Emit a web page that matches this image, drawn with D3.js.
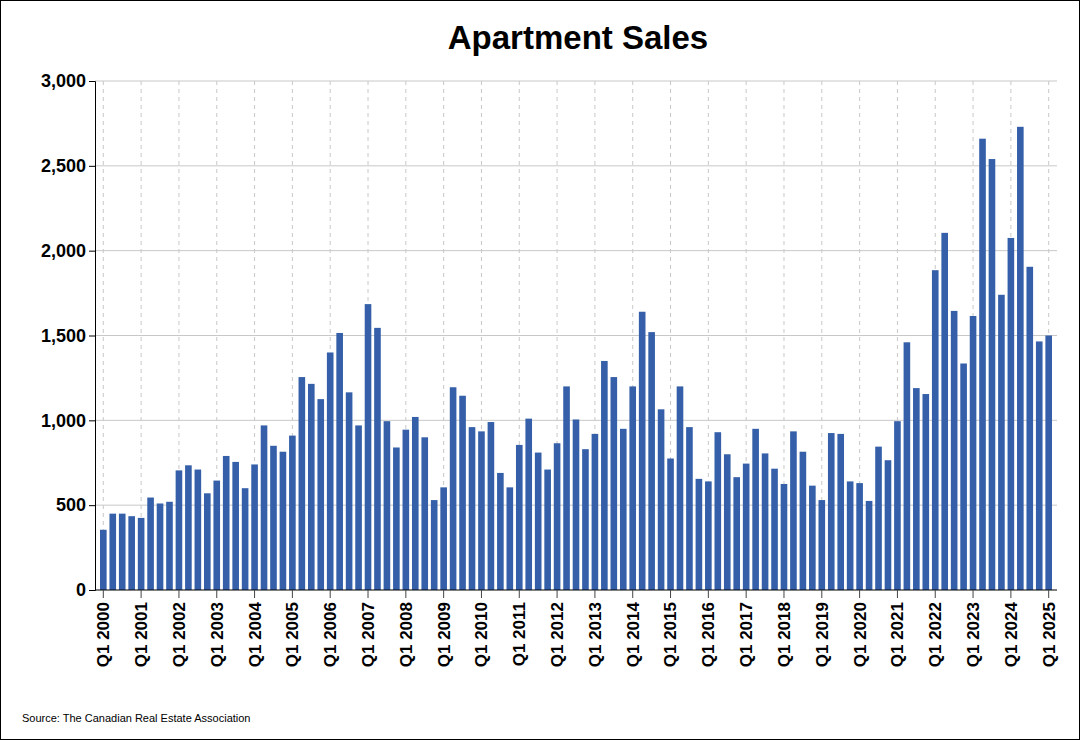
<!DOCTYPE html>
<html>
<head>
<meta charset="utf-8">
<script src="https://cdn.jsdelivr.net/npm/d3@7"></script>
<style>
  body { margin: 0; background: #fff; }
  svg { font-family: "Liberation Sans", Arial, sans-serif; }
</style>
</head>
<body>
<svg id="chart"></svg>
<script>
const years = d3.range(2000, 2026);
const sales = [
  355, 450, 450, 435,
  425, 545, 510, 520,
  705, 735, 710, 570,
  645, 790, 755, 600,
  740, 970, 850, 815,
  910, 1255, 1215, 1125,
  1400, 1515, 1165, 970,
  1685, 1545, 995, 840,
  945, 1020, 900, 530,
  605, 1195, 1145, 960,
  935, 990, 690, 605,
  855, 1010, 810, 710,
  865, 1200, 1005, 830,
  920, 1350, 1255, 950,
  1200, 1640, 1520, 1065,
  775, 1200, 960, 655,
  640, 930, 800, 665,
  745, 950, 805, 715,
  625, 935, 815, 615,
  530, 925, 920, 640,
  630, 525, 845, 765,
  995, 1460, 1190, 1155,
  1885, 2105, 1645, 1335,
  1615, 2660, 2540, 1740,
  2075, 2730, 1905, 1465,
  1500
];
const yTicks = [0, 500, 1000, 1500, 2000, 2500, 3000];

// quarter labels, e.g. "Q1 2000"
const quarters = sales.map((d, i) => `Q${(i % 4) + 1} ${years[Math.floor(i / 4)]}`);

const width = 1080, height = 740;
const margin = { top: 81, right: 23, bottom: 150, left: 95 };

const svg = d3.select('#chart').attr('width', width).attr('height', height);

svg.append('rect')
  .attr('x', 0.5).attr('y', 0.5)
  .attr('width', width - 1).attr('height', height - 1)
  .attr('fill', '#fff').attr('stroke', '#000');

const x = d3.scaleBand()
  .domain(quarters)
  .range([margin.left + 5, width - margin.right - 5])
  .paddingInner(0.3);

const y = d3.scaleLinear()
  .domain([0, 3000])
  .range([height - margin.bottom, margin.top]);

// horizontal grid
svg.append('g')
  .selectAll('line')
  .data(yTicks.slice(1))
  .join('line')
  .attr('x1', margin.left).attr('x2', width - margin.right)
  .attr('y1', d => y(d)).attr('y2', d => y(d))
  .attr('stroke', '#c8c8c8');

// vertical dashed grid at Q1
const q1 = quarters.filter(q => q.startsWith('Q1'));
svg.append('g')
  .selectAll('line')
  .data(q1)
  .join('line')
  .attr('x1', d => x(d) + x.bandwidth() / 2).attr('x2', d => x(d) + x.bandwidth() / 2)
  .attr('y1', margin.top).attr('y2', y(0))
  .attr('stroke', '#c8c8c8')
  .attr('stroke-dasharray', '4,4');

// bars
svg.append('g')
  .selectAll('rect')
  .data(sales)
  .join('rect')
  .attr('x', (d, i) => x(quarters[i]))
  .attr('y', d => y(d))
  .attr('width', x.bandwidth())
  .attr('height', d => y(0) - y(d))
  .attr('fill', '#3560a9');

// y axis
const yAxis = svg.append('g')
  .attr('transform', `translate(${margin.left},0)`)
  .call(d3.axisLeft(y).tickValues(yTicks).tickFormat(d3.format(',')).tickSize(6));
yAxis.selectAll('text')
  .attr('font-size', 18).attr('font-weight', 'bold').attr('fill', '#000')
  .attr('font-family', '"Liberation Sans", Arial, sans-serif');
yAxis.selectAll('line, path').attr('stroke', '#000');

// x axis
const xAxis = svg.append('g')
  .attr('transform', `translate(0,${y(0)})`)
  .call(d3.axisBottom(x).tickValues(q1).tickSize(8).tickSizeOuter(0));
xAxis.select('.domain').attr('stroke', '#000').attr('d', `M${margin.left},0H${width - margin.right}`);
xAxis.selectAll('line').attr('stroke', '#444');
xAxis.selectAll('text')
  .attr('font-size', 17).attr('font-weight', 'bold').attr('fill', '#000')
  .attr('font-family', '"Liberation Sans", Arial, sans-serif')
  .attr('transform', 'rotate(-90)')
  .attr('text-anchor', 'end')
  .attr('x', -12).attr('y', 0).attr('dy', '0.35em');

// title
svg.append('text')
  .attr('x', 578).attr('y', 49)
  .attr('text-anchor', 'middle')
  .attr('font-size', 33).attr('font-weight', 'bold')
  .text('Apartment Sales');

// source
svg.append('text')
  .attr('x', 22).attr('y', 722)
  .attr('font-size', 11)
  .text('Source: The Canadian Real Estate Association');
</script>
</body>
</html>
